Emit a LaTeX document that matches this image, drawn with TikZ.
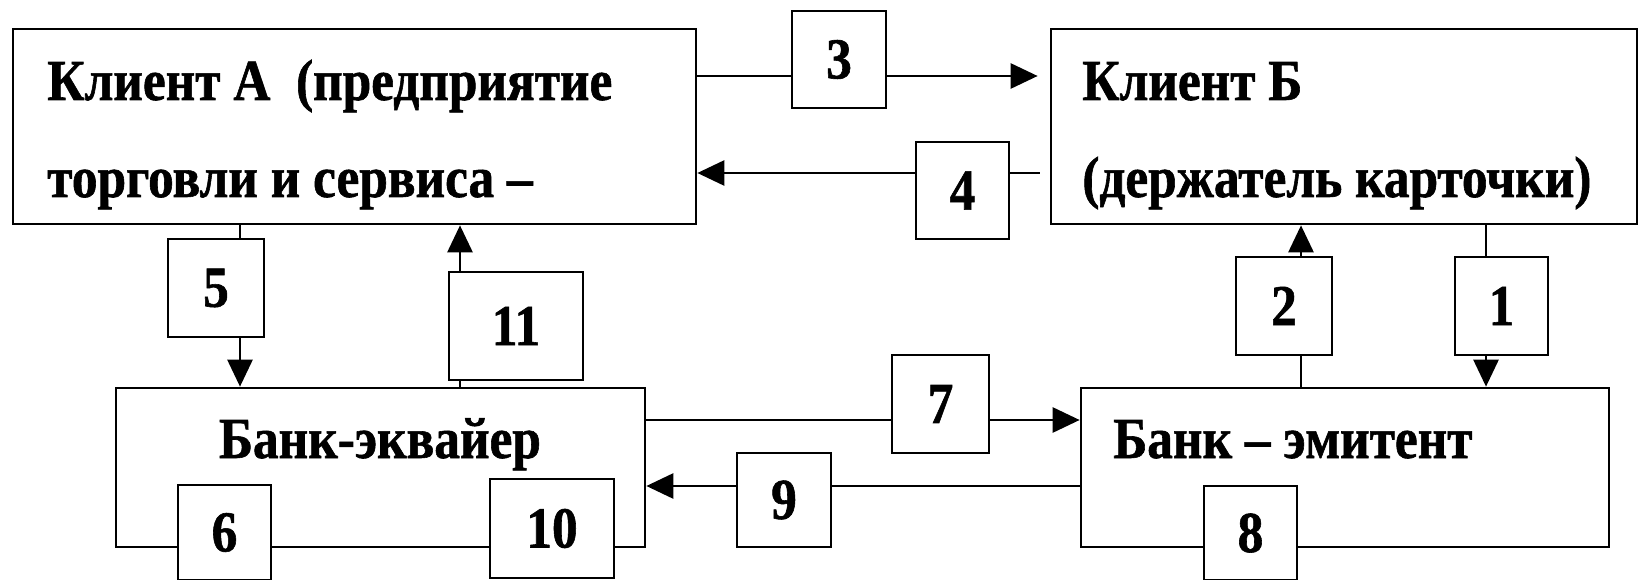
\documentclass[tikz,border=0pt]{standalone}
\usepackage{fontspec}
\setmainfont{Liberation Serif}[FakeStretch=0.885, FakeBold=1]
\usetikzlibrary{positioning, arrows.meta}

\begin{document}
\begin{tikzpicture}[x=1pt, y=-1pt, line width=2.7pt,
	font=\fontsize{58}{62}\selectfont\bfseries,
	mainbox/.style={draw, rectangle, inner sep=0pt},
	numbox/.style={draw, rectangle, fill=white, inner sep=0pt},
	boxtext/.style={anchor=base west, inner sep=0pt},
	flow/.style={-{Triangle[length=27pt, width=25pt]}}]
	\useasboundingbox (0,0) rectangle (1641,580);

	% main boxes
	\node[mainbox, minimum width=683pt, minimum height=195pt] (clA) at (354.5,126.5) {};
	\node[mainbox, minimum width=586pt, minimum height=195pt] (clB) at (1344,126.5) {};
	\node[mainbox, minimum width=529pt, minimum height=159pt] (acq) at (380.5,467.5) {};
	\node[mainbox, minimum width=528pt, minimum height=159pt] (emi) at (1345,467.5) {};

	\node[boxtext] (clAa) at (46,100) {Клиент А\ \ (предприятие};
	\node[boxtext] (clAb) at (46,197) {торговли и сервиса –};
	\node[boxtext] (clBa) at (1081,100) {Клиент Б};
	\node[boxtext] (clBb) at (1081,197) {(держатель карточки)};
	\node[anchor=base, inner sep=0pt] (acqa) at (380,458) {Банк-эквайер};
	\node[boxtext] (emia) at (1112,458) {Банк – эмитент};

	% line levels
	\coordinate (l3) at (0,76);
	\coordinate (l4) at (0,173);
	\coordinate (l5) at (240,0);
	\coordinate (l11) at (460,0);
	\coordinate (l2) at (1301,0);
	\coordinate (l1) at (1486,0);
	\coordinate (l7) at (0,420);
	\coordinate (l9) at (0,486);

	\draw[flow, shorten >=12pt] (clA.east |- l3) -- (clB.west |- l3);
	\draw[flow, shorten <=10pt] (clB.west |- l4) -- (clA.east |- l4);
	\draw[flow] (l5 |- clA.south) -- (l5 |- acq.north);
	\draw[flow] (l11 |- acq.north) -- (l11 |- clA.south);
	\draw[flow] (l2 |- emi.north) -- (l2 |- clB.south);
	\draw[flow] (l1 |- clB.south) -- (l1 |- emi.north);
	\draw[flow] (acq.east |- l7) -- (emi.west |- l7);
	\draw[flow] (emi.west |- l9) -- (acq.east |- l9);

	% numbered steps
	\node[numbox, minimum width=93pt, minimum height=98pt] (n1) at (1501.5,306) {1};
	\node[numbox, minimum width=96pt, minimum height=98pt] (n2) at (1284,306) {2};
	\node[numbox, minimum width=94pt, minimum height=97pt] (n3) at (839,59.5) {3};
	\node[numbox, minimum width=93pt, minimum height=97pt] (n4) at (962.5,190.5) {4};
	\node[numbox, minimum width=96pt, minimum height=98pt] (n5) at (216,288) {5};
	\node[numbox, minimum width=93pt, minimum height=95pt] (n6) at (224.5,532.5) {6};
	\node[numbox, minimum width=97pt, minimum height=98pt] (n7) at (940.5,404) {7};
	\node[numbox, minimum width=93pt, minimum height=94pt] (n8) at (1250.5,533) {8};
	\node[numbox, minimum width=94pt, minimum height=94pt] (n9) at (784,500) {9};
	\node[numbox, minimum width=124pt, minimum height=99pt] (n10) at (552,528.5) {10};
	\node[numbox, minimum width=134pt, minimum height=108pt] (n11) at (516,326) {11};
\end{tikzpicture}
\end{document}
